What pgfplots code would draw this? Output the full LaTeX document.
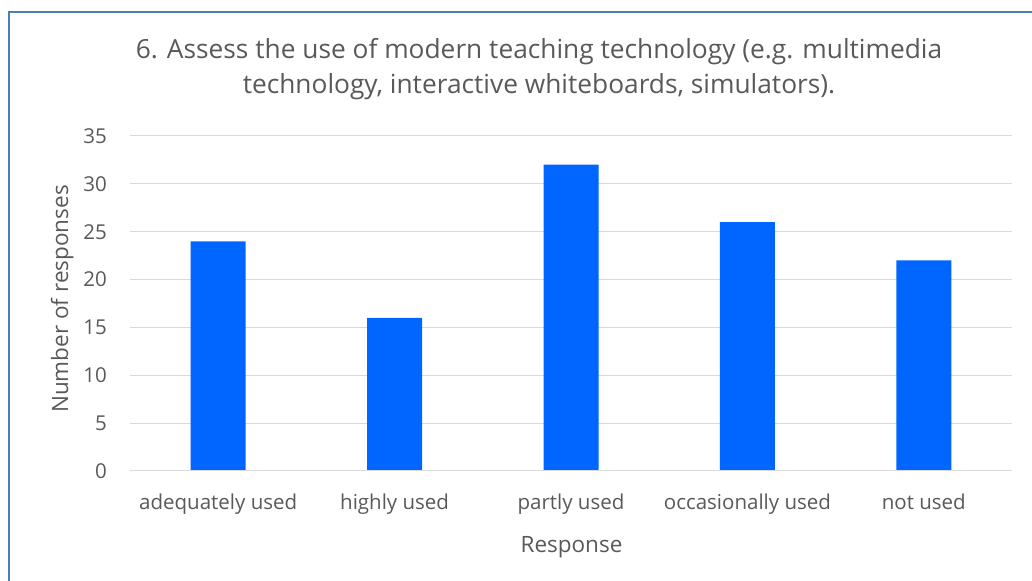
\documentclass[border=0pt]{standalone}
\usepackage{pgfplots}
\pgfplotsset{compat=1.18}
\usepackage{fontspec}
\setmainfont{Open Sans}
\definecolor{barblue}{HTML}{0066FF}
\definecolor{txtgray}{HTML}{595959}
\definecolor{gridgray}{HTML}{D9D9D9}
\definecolor{borderblue}{HTML}{4A7EBB}
\begin{document}
\begin{tikzpicture}[x=1bp,y=1bp]
\path[use as bounding box] (0,0) rectangle (1032,581);
\draw[borderblue, line width=1.6bp] (9,0) -- (9,569) -- (1032,569);
\begin{axis}[
  at={(130bp,110bp)}, anchor=south west,
  scale only axis,
  width=882bp, height=335bp,
  xmin=-0.5, xmax=4.5, ymin=0, ymax=35,
  ytick={0,5,...,35},
  xtick=data,
  xticklabels={adequately used, highly used, partly used, occasionally used, not used},
  ymajorgrids, grid style={gridgray, line width=1bp},
  axis line style={draw=none},
  major tick length=0pt,
  tick label style={font=\fontsize{20.5bp}{24bp}\selectfont, text=txtgray},
  /pgf/number format/assume math mode=true,
  yticklabel style={anchor=east, inner sep=0pt, xshift=-23bp},
  xticklabel style={anchor=base, inner sep=0pt, yshift=-39bp},
  ybar, bar width=55bp,
  clip=false,
]
\addplot[fill=barblue, draw=none] coordinates {(0,24) (1,16) (2,32) (3,26) (4,22)};
\draw[gridgray, line width=1bp] (axis cs:-0.5,0) -- (axis cs:4.5,0);
\end{axis}
\node[anchor=base, text=txtgray, font=\fontsize{26.3bp}{30bp}\selectfont, inner sep=0pt] at (539,522) {6. Assess the use of modern teaching technology (e.g. multimedia};
\node[anchor=base, text=txtgray, font=\fontsize{26.3bp}{30bp}\selectfont, inner sep=0pt] at (539,487) {technology, interactive whiteboards, simulators).};
\node[anchor=base, text=txtgray, font=\fontsize{22.5bp}{26bp}\selectfont, inner sep=0pt] at (571.5,28) {Response};
\node[anchor=base, rotate=90, text=txtgray, font=\fontsize{22.5bp}{26bp}\selectfont, inner sep=0pt] at (68,282) {Number of responses};
\end{tikzpicture}
\end{document}
